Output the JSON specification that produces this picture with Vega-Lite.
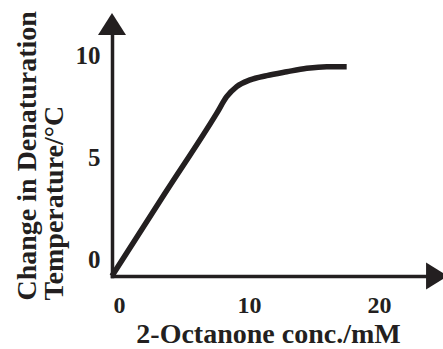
{
  "$schema": "https://vega.github.io/schema/vega-lite/v6.json",
  "width": 314,
  "height": 241,
  "autosize": "none",
  "padding": {"left": 112, "top": 35, "right": 17, "bottom": 73},
  "background": "white",
  "config": {
    "view": {"stroke": null},
    "font": "Liberation Serif"
  },
  "encoding": {
    "x": {
      "field": "conc",
      "type": "quantitative",
      "scale": {"domain": [0, 24.15], "nice": false, "zero": false},
      "axis": {
        "values": [0, 10, 20],
        "grid": false,
        "ticks": false,
        "tickSize": 0,
        "domainColor": "#231f20",
        "domainWidth": 3.5,
        "domainCap": "square",
        "labelFont": "Liberation Serif",
        "labelFontWeight": "bold",
        "labelFontSize": 24,
        "labelColor": "#231f20",
        "labelBaseline": "top",
        "labelPadding": 17,
        "labelOffset": 7,
        "labelFlush": false,
        "title": "2-Octanone conc./mM",
        "titleFont": "Liberation Serif",
        "titleFontWeight": "bold",
        "titleFontSize": 28,
        "titleColor": "#231f20",
        "titleAlign": "center",
        "titleBaseline": "alphabetic",
        "titleX": 156,
        "titleY": 66
      }
    },
    "y": {
      "field": "dT",
      "type": "quantitative",
      "scale": {"domain": [0, 11.87], "nice": false, "zero": false},
      "axis": {
        "values": [0, 5, 10],
        "grid": false,
        "ticks": false,
        "tickSize": 0,
        "domainColor": "#231f20",
        "domainWidth": 3.5,
        "domainCap": "square",
        "labelFont": "Liberation Serif",
        "labelFontWeight": "bold",
        "labelFontSize": 25,
        "labelColor": "#231f20",
        "labelBaseline": "middle",
        "labelPadding": 12,
        "labelOffset": -17,
        "labelFlush": false,
        "title": ["Change in Denaturation", "Temperature/°C"],
        "titleFont": "Liberation Serif",
        "titleFontWeight": "bold",
        "titleFontSize": 28,
        "titleColor": "#231f20",
        "titleAngle": 270,
        "titleAlign": "left",
        "titleBaseline": "alphabetic",
        "titleLineHeight": 27,
        "titleX": -77,
        "titleY": 265
      }
    }
  },
  "layer": [
    {
      "data": {"values": [
        {"conc": 0, "dT": 0},
        {"conc": 4.0, "dT": 4.0},
        {"conc": 8.05, "dT": 8.01},
        {"conc": 8.82, "dT": 8.83},
        {"conc": 9.59, "dT": 9.33},
        {"conc": 10.62, "dT": 9.66},
        {"conc": 11.9, "dT": 9.87},
        {"conc": 13.44, "dT": 10.06},
        {"conc": 14.98, "dT": 10.23},
        {"conc": 16.52, "dT": 10.31},
        {"conc": 18.05, "dT": 10.31}
      ]},
      "mark": {"type": "line", "color": "#231f20", "strokeWidth": 5.5, "interpolate": "monotone", "strokeCap": "butt", "strokeJoin": "round"}
    },
    {
      "data": {"values": [{"conc": 0, "dT": 12.41}]},
      "mark": {"type": "point", "shape": "M0,-0.786L-1,0.786L1,0.786Z", "size": 784, "filled": true, "opacity": 1, "color": "#231f20", "strokeWidth": 0}
    },
    {
      "data": {"values": [{"conc": 25.0, "dT": 0}]},
      "mark": {"type": "point", "shape": "M1,0L-1,-1.227L-1,1.227Z", "size": 484, "filled": true, "opacity": 1, "color": "#231f20", "strokeWidth": 0}
    }
  ]
}
